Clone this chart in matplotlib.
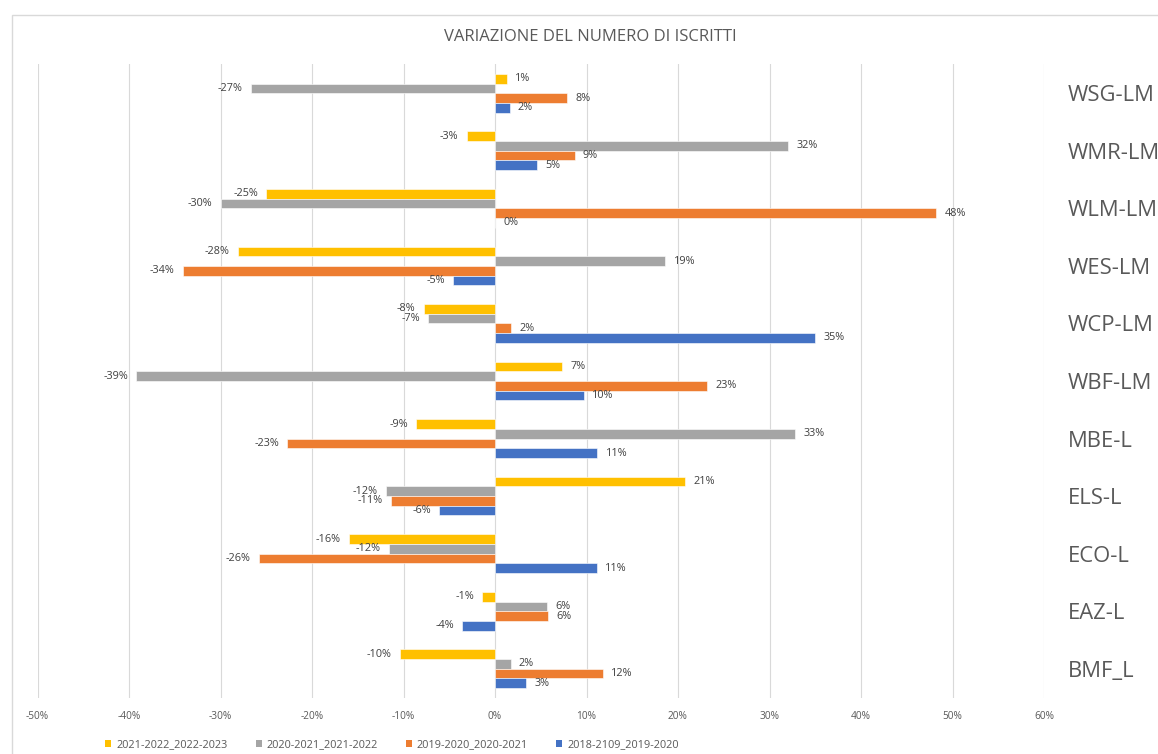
import matplotlib
matplotlib.use("Agg")
import matplotlib.pyplot as plt
from matplotlib.patches import Rectangle, Patch
import numpy as np

plt.rcParams['font.family'] = ['Open Sans', 'DejaVu Sans']

categories = ["WSG-LM", "WMR-LM", "WLM-LM", "WES-LM", "WCP-LM", "WBF-LM",
              "MBE-L", "ELS-L", "ECO-L", "EAZ-L", "BMF_L"]
series_names = ["2021-2022_2022-2023", "2020-2021_2021-2022",
                "2019-2020_2020-2021", "2018-2109_2019-2020"]
colors = ["#FFC000", "#A5A5A5", "#ED7D31", "#4472C4"]

s2122 = [1.3, -3.1, -25.0, -28.1, -7.8, 7.3, -8.6, 20.8, -16.0, -1.4, -10.4]
s2021 = [-26.7, 32.0, -30.0, 18.6, -7.3, -39.2, 32.8, -11.9, -11.6, 5.7, 1.7]
s1920 = [7.9, 8.7, 48.2, -34.1, 1.8, 23.2, -22.7, -11.4, -25.8, 5.8, 11.8]
s1819 = [1.6, 4.6, 0.0, -4.6, 35.0, 9.7, 11.2, -6.1, 11.1, -3.6, 3.4]
series = [s2122, s2021, s1920, s1819]

xticks = [-50, -40, -30, -20, -10, 0, 10, 20, 30, 40, 50, 60]

W, H = 1158, 754
fig = plt.figure(figsize=(W / 100, H / 100), dpi=100)

# chart border
fig.patches.append(Rectangle((12 / W, -0.1), 2, 1 - 15 / H + 0.1, transform=fig.transFigure,
                             fill=False, edgecolor="#D9D9D9", linewidth=1.0))

ax_left, ax_right = 37.5, 1044
ax_top, ax_bottom = 64.5, 697.5
ax = fig.add_axes([ax_left / W, 1 - ax_bottom / H, (ax_right - ax_left) / W, (ax_bottom - ax_top) / H])

n = len(categories)
y = np.arange(n)
bh = 0.168
for i, (vals, col) in enumerate(zip(series, colors)):
    ypos = y + (i - 1.5) * bh
    ax.barh(ypos, vals, height=bh, color=col, edgecolor="white", linewidth=0.4, zorder=3)
    for yy, v in zip(ypos, vals):
        lab = f"{int(round(v))}%"
        if v >= 0:
            ax.annotate(lab, (v, yy), xytext=(6, 0), textcoords="offset points",
                        ha="left", va="center", fontsize=7.8, color="#404040")
        else:
            ax.annotate(lab, (v, yy), xytext=(-6, 0), textcoords="offset points",
                        ha="right", va="center", fontsize=7.8, color="#404040")

ax.set_xlim(-50, 60)
ax.set_ylim(n - 0.5, -0.5)
ax.set_xticks(xticks)
ax.set_xticklabels([f"{t}%" for t in xticks], fontsize=7.3, color="#595959")
ax.tick_params(axis="x", length=0, pad=10)
ax.grid(axis="x", color="#D9D9D9", linewidth=0.8, zorder=0)
ax.set_axisbelow(True)
for s in ax.spines.values():
    s.set_visible(False)
ax.set_yticks(y)
ax.set_yticklabels(categories, fontsize=15.8, color="#595959")
ax.yaxis.tick_right()
ax.tick_params(axis="y", length=0, pad=17)

fig.text(590 / W, 1 - 37 / H, "VARIAZIONE DEL NUMERO DI ISCRITTI", ha="center", va="center",
         fontsize=12, color="#595959")

handles = [Patch(facecolor=c, edgecolor="none") for c in colors]
fig.legend(handles, series_names, loc="center", bbox_to_anchor=(392 / W, 1 - 745 / H),
           ncol=4, frameon=False, fontsize=7.8, labelcolor="#595959",
           handlelength=0.55, handleheight=0.55, handletextpad=0.45, columnspacing=2.6)

fig.savefig("out.png", dpi=100)
